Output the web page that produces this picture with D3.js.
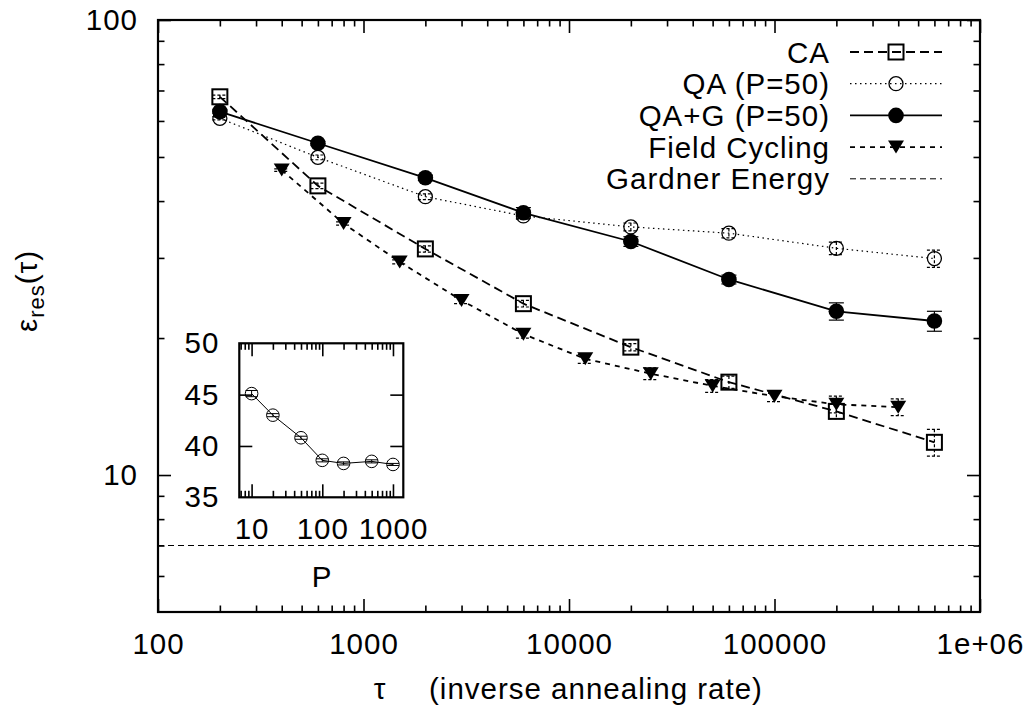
<!DOCTYPE html>
<html>
<head>
<meta charset="utf-8">
<script src="https://cdn.jsdelivr.net/npm/d3@7"></script>
<style>
  body { margin: 0; background: #fff; }
  text { font-family: "Liberation Sans", Arial, Helvetica, sans-serif; fill: #000; letter-spacing: 1px; }
</style>
</head>
<body>
<svg id="chart" width="1034" height="712"></svg>
<script>
// main plot data
const tau = [200, 600, 2000, 6000, 20000, 60000, 200000, 600000]
const caVals = [67.8, 43.2, 31.4, 23.8, 19.1, 16.0, 13.8, 11.8]
const caErr = [0.6, 0.6, 0.5, 0.4, 0.35, 0.5, 0.5, 0.8]
const qaVals = [60.8, 49.9, 40.9, 37.1, 35.1, 34.0, 31.5, 29.9]
const qaErr = [0.5, 0.6, 0.6, 0.6, 0.7, 0.8, 1.0, 1.3]
const qagVals = [62.9, 53.6, 45.0, 37.7, 32.6, 26.9, 22.9, 21.8]
const qagErr = [0.5, 0.5, 0.6, 1.0, 0.8, 0.6, 1.0, 1.1]
const tauFC = [400, 800, 1500, 3000, 6000, 12000, 25000, 50000, 100000, 200000, 400000]
const fcVals = [46.8, 35.7, 29.4, 24.2, 20.4, 18.0, 16.7, 15.7, 14.9, 14.3, 14.1]
const fcErr = [0.3, 0.3, 0.3, 0.4, 0.4, 0.4, 0.5, 0.5, 0.4, 0.6, 0.6]
const gardner = 7.0

// inset: residual energy vs P
const insetP = [10, 20, 50, 100, 200, 500, 1000]
const insetVals = [45.1, 43.0, 40.8, 38.6, 38.3, 38.5, 38.2]
const insetErr = [0.3, 0.15, 0.15, 0.15, 0.15, 0.15, 0.1]

const xMajor = [100, 1000, 10000, 100000, 1000000]
const xLabels = ['100', '1000', '10000', '100000', '1e+06']
const yMajor = [10, 100]
const insetXMajor = [10, 100, 1000]
const insetYMajor = [35, 40, 45, 50]

const FS = 29.5
const svg = d3.select('#chart')

const logMinors = (lo, hi) => {
  const out = []
  for (let d = Math.floor(Math.log10(lo)); d <= Math.ceil(Math.log10(hi)); d++) {
    for (let m = 2; m <= 9; m++) {
      const v = m * Math.pow(10, d)
      if (v > lo && v < hi) out.push(v)
    }
  }
  return out
}

// draw a framed box with inward ticks on all four sides
function frame(g, x, y, opt) {
  const [x0, x1] = x.range()
  const [y0, y1] = y.range()
  const axes = [
    [d3.axisBottom, y0, 'x', true],
    [d3.axisTop, y1, 'x', false],
    [d3.axisLeft, x0, 'y', true],
    [d3.axisRight, x1, 'y', false]
  ]
  axes.forEach(([mk, pos, dim, labelled]) => {
    const sc = dim === 'x' ? x : y
    const tr = dim === 'x' ? `translate(0,${pos})` : `translate(${pos},0)`
    const major = mk(sc)
      .tickValues(dim === 'x' ? opt.xMajor : opt.yMajor)
      .tickSizeInner(-13)
      .tickSizeOuter(0)
      .tickPadding(dim === 'x' ? 21 : 20)
      .tickFormat(labelled ? (dim === 'x' ? opt.xFormat : opt.yFormat) : '')
    const ga = g.append('g').attr('transform', tr).call(major)
    ga.select('.domain').remove()
    ga.selectAll('line').attr('stroke', '#000').attr('stroke-width', 1.6)
    ga.selectAll('text').style('font-size', FS + 'px')
      .style('font-family', '"Liberation Sans", Arial, sans-serif')
    const minors = dim === 'x' ? opt.xMinor : opt.yMinor
    if (minors && minors.length) {
      const gm = g.append('g').attr('transform', tr)
        .call(mk(sc).tickValues(minors).tickSizeInner(-6.5).tickSizeOuter(0).tickFormat(''))
      gm.select('.domain').remove()
      gm.selectAll('line').attr('stroke', '#000').attr('stroke-width', 1.6)
    }
  })
  g.append('rect')
    .attr('x', x0).attr('y', y1)
    .attr('width', x1 - x0).attr('height', y0 - y1)
    .attr('fill', 'none').attr('stroke', '#000').attr('stroke-width', 2.2)
}

// ---------- main plot ----------
const x = d3.scaleLog().domain([100, 1e6]).range([158, 980])
const y = d3.scaleLog().domain([5, 100]).range([612, 20])

const main = svg.append('g')
frame(main, x, y, {
  xMajor: xMajor,
  yMajor: yMajor,
  xMinor: logMinors(100, 1e6),
  yMinor: logMinors(5, 100),
  xFormat: (d) => xLabels[xMajor.indexOf(d)],
  yFormat: (d) => String(d)
})

const series = [
  {name: 'CA', t: tau, v: caVals, e: caErr, dash: '9,5', w: 1.8, mark: 'square'},
  {name: 'QA (P=50)', t: tau, v: qaVals, e: qaErr, dash: '1.5,3.5', w: 1.2, mark: 'circle'},
  {name: 'QA+G (P=50)', t: tau, v: qagVals, e: qagErr, dash: null, w: 1.8, mark: 'disc'},
  {name: 'Field Cycling', t: tauFC, v: fcVals, e: fcErr, dash: '5,5', w: 1.8, mark: 'tri'}
]

function marker(g, kind, cx, cy) {
  if (kind === 'square') {
    g.append('rect').attr('x', cx - 7.5).attr('y', cy - 7.5).attr('width', 15).attr('height', 15)
      .attr('fill', 'none').attr('stroke', '#000').attr('stroke-width', 2)
  } else if (kind === 'circle') {
    g.append('circle').attr('cx', cx).attr('cy', cy).attr('r', 7)
      .attr('fill', 'none').attr('stroke', '#000').attr('stroke-width', 1.3)
  } else if (kind === 'disc') {
    g.append('circle').attr('cx', cx).attr('cy', cy).attr('r', 7.8).attr('fill', '#000')
  } else if (kind === 'tri') {
    g.append('path').attr('d', `M${cx - 8},${cy - 6.5}L${cx + 8},${cy - 6.5}L${cx},${cy + 6.5}Z`)
      .attr('fill', '#000')
  }
}

series.forEach((s) => {
  const pts = s.t.map((t, i) => ({t: t, v: s.v[i], e: s.e[i]}))
  const g = main.append('g')
  g.append('path')
    .datum(pts)
    .attr('d', d3.line().x((d) => x(d.t)).y((d) => y(d.v)))
    .attr('fill', 'none').attr('stroke', '#000')
    .attr('stroke-width', s.w)
    .attr('stroke-dasharray', s.dash)
  pts.forEach((d) => {
    const cx = x(d.t)
    const yt = y(d.v + d.e)
    const yb = y(d.v - d.e)
    const eb = g.append('g').attr('stroke', '#000').attr('stroke-width', 1.2)
      .attr('stroke-dasharray', s.dash ? '3,2' : null)
    eb.append('line').attr('x1', cx).attr('x2', cx).attr('y1', yt).attr('y2', yb)
    eb.append('line').attr('x1', cx - 7.5).attr('x2', cx + 7.5).attr('y1', yt).attr('y2', yt)
    eb.append('line').attr('x1', cx - 7.5).attr('x2', cx + 7.5).attr('y1', yb).attr('y2', yb)
    marker(g, s.mark, cx, y(d.v))
  })
})

// Gardner energy line
main.append('line')
  .attr('x1', x(100)).attr('x2', x(1e6))
  .attr('y1', y(gardner)).attr('y2', y(gardner))
  .attr('stroke', '#000').attr('stroke-width', 1)
  .attr('stroke-dasharray', '6,4')

// legend
const legend = svg.append('g')
const legendRows = series.concat([{name: 'Gardner Energy', dash: '6,4', w: 1, mark: null}])
legendRows.forEach((s, i) => {
  const cy = 52 + i * 31.7
  legend.append('text')
    .attr('x', 830).attr('y', cy + 10.5)
    .attr('text-anchor', 'end')
    .style('font-size', FS + 'px')
    .text(s.name)
  legend.append('line')
    .attr('x1', 850).attr('x2', 942).attr('y1', cy).attr('y2', cy)
    .attr('stroke', '#000').attr('stroke-width', s.w)
    .attr('stroke-dasharray', s.dash)
  if (s.mark) marker(legend, s.mark, 896, cy)
})

// axis titles
svg.append('text')
  .attr('transform', 'translate(37,291) rotate(-90)')
  .attr('text-anchor', 'middle')
  .style('font-size', FS + 'px')
  .call((t) => {
    t.append('tspan').text('ε')
    t.append('tspan').attr('dy', 7).style('font-size', '22px').text('res')
    t.append('tspan').attr('dy', -7).text('(τ)')
  })

svg.append('text')
  .attr('x', 380).attr('y', 699)
  .attr('text-anchor', 'middle')
  .style('font-size', FS + 'px')
  .text('τ')
svg.append('text')
  .attr('x', 429).attr('y', 699)
  .style('font-size', FS + 'px')
  .text('(inverse annealing rate)')

// ---------- inset ----------
const ix = d3.scaleLog().domain([6.7, 1400]).range([239.3, 403.3])
const iy = d3.scaleLinear().domain([35, 50]).range([497.3, 343.3])
const inset = svg.append('g')
inset.append('rect')
  .attr('x', 239.3).attr('y', 343.3).attr('width', 164).attr('height', 154)
  .attr('fill', '#fff')
frame(inset, ix, iy, {
  xMajor: insetXMajor,
  yMajor: insetYMajor.slice(1, 3),
  xMinor: logMinors(6.7, 1400),
  yMinor: [],
  xFormat: (d) => String(d),
  yFormat: (d) => String(d)
})
// corner labels 35 and 50 sit on the frame corners
;[35, 50].forEach((v) => {
  inset.append('text')
    .attr('x', 239.3 - 20).attr('y', iy(v)).attr('dy', '0.32em')
    .attr('text-anchor', 'end')
    .style('font-size', FS + 'px')
    .text(v)
})

const ipts = insetP.map((p, i) => ({p: p, v: insetVals[i], e: insetErr[i]}))
inset.append('path')
  .datum(ipts)
  .attr('d', d3.line().x((d) => ix(d.p)).y((d) => iy(d.v)))
  .attr('fill', 'none').attr('stroke', '#000').attr('stroke-width', 1)
ipts.forEach((d) => {
  const cx = ix(d.p)
  const eb = inset.append('g').attr('stroke', '#000').attr('stroke-width', 1)
  eb.append('line').attr('x1', cx).attr('x2', cx).attr('y1', iy(d.v + d.e)).attr('y2', iy(d.v - d.e))
  eb.append('line').attr('x1', cx - 6).attr('x2', cx + 6).attr('y1', iy(d.v + d.e)).attr('y2', iy(d.v + d.e))
  eb.append('line').attr('x1', cx - 6).attr('x2', cx + 6).attr('y1', iy(d.v - d.e)).attr('y2', iy(d.v - d.e))
  inset.append('circle').attr('cx', cx).attr('cy', iy(d.v)).attr('r', 6.3)
    .attr('fill', 'none').attr('stroke', '#000').attr('stroke-width', 1)
})

svg.append('text')
  .attr('x', 322).attr('y', 587)
  .attr('text-anchor', 'middle')
  .style('font-size', FS + 'px')
  .text('P')
</script>
</body>
</html>
